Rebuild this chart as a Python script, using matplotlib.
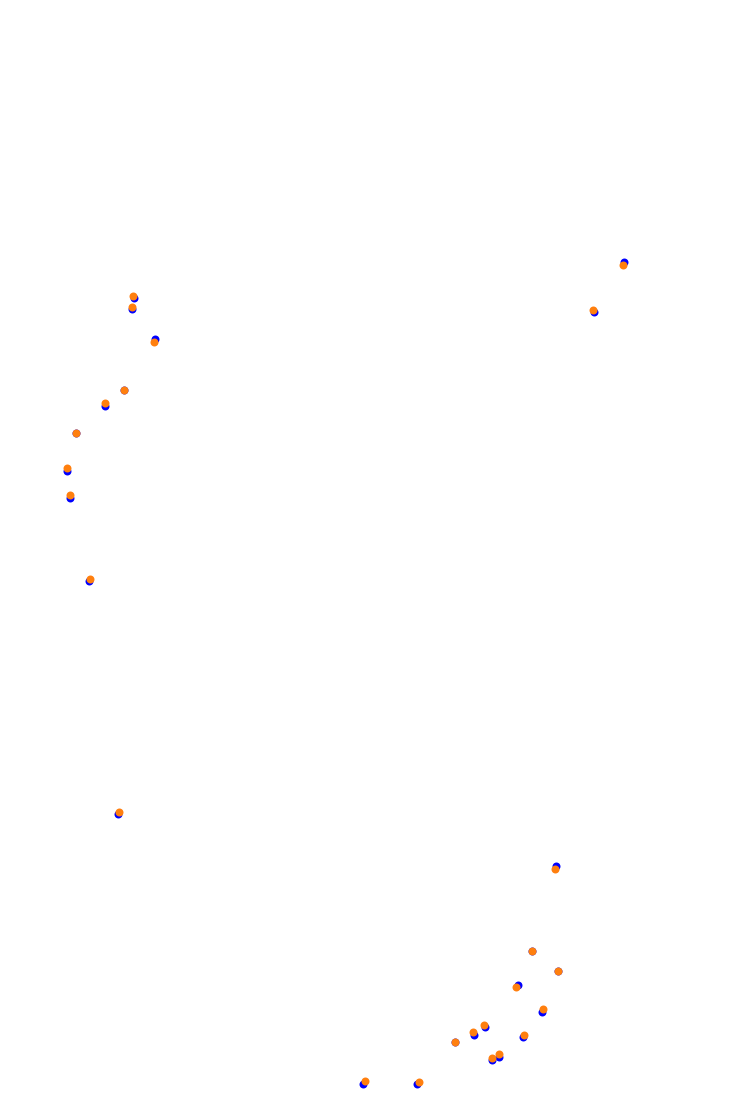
import numpy as np
import matplotlib
matplotlib.use("Agg")
import matplotlib.pyplot as plt

# Point positions (canvas units, y grows downward)
blue_x = [134.3, 132.0, 155.0, 124.0, 105.0, 76.0, 67.0, 69.7, 88.7, 118.0,
          624.3, 594.0, 556.0, 532.0, 558.0, 517.7, 541.7, 485.0, 473.7, 455.0,
          523.0, 498.7, 491.7, 363.3, 417.3]
blue_y = [297.7, 308.7, 339.3, 390.0, 406.0, 433.0, 471.0, 497.7, 581.3, 814.3,
          262.3, 312.0, 866.3, 951.0, 971.0, 985.3, 1012.0, 1027.0, 1035.0, 1042.0,
          1037.3, 1056.7, 1060.3, 1084.0, 1084.0]

orange_x = [133.0, 131.7, 153.7, 124.0, 105.0, 76.0, 67.0, 70.0, 90.0, 119.0,
            622.7, 593.0, 554.7, 532.0, 558.0, 516.0, 543.0, 483.7, 473.0, 455.0,
            524.0, 499.0, 491.7, 365.0, 419.0]
orange_y = [296.0, 306.7, 342.0, 390.0, 403.0, 433.0, 467.7, 494.7, 579.0, 812.0,
            265.0, 309.7, 869.0, 951.0, 971.0, 987.0, 1008.7, 1024.7, 1031.7, 1042.0,
            1034.7, 1054.0, 1057.7, 1080.7, 1082.0]

fig = plt.figure(figsize=(7.38, 11.13), dpi=100)
ax = fig.add_axes([0, 0, 1, 1])

ax.scatter(blue_x, blue_y, s=33, color="#0000ff", linewidths=0)
ax.scatter(orange_x, orange_y, s=33, color="#ff7f0e", linewidths=0)

ax.set_xlim(0, 738)
ax.set_ylim(1113, 0)
ax.axis("off")

fig.savefig("out.png", dpi=100, facecolor="white")
plt.close(fig)
